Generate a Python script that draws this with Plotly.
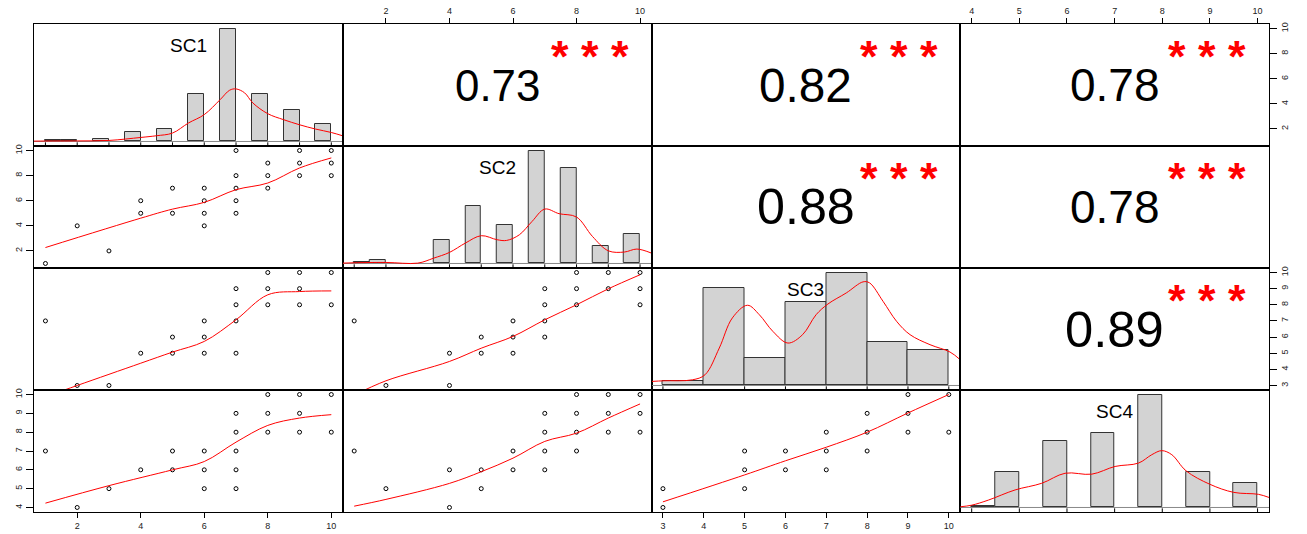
import plotly.graph_objects as go
from plotly.subplots import make_subplots

# ---------------- data ----------------
var_names = ["SC1", "SC2", "SC3", "SC4"]
var_min = [1, 1, 3, 4]
var_max = [10, 10, 10, 10]
tick_vals = [[2, 4, 6, 8, 10], [2, 4, 6, 8, 10], [3, 4, 5, 6, 7, 8, 9, 10], [4, 5, 6, 7, 8, 9, 10]]

# histograms (bin left edges, bin width, counts)
sc1_bin_left = [1, 1.5, 2.5, 3.5, 4.5, 5.5, 6.5, 7.5, 8.5, 9.5]
sc1_counts = [1, 1, 2, 8, 11, 41, 98, 41, 27, 15]
sc2_bin_left = [1, 1.5, 3.5, 4.5, 5.5, 6.5, 7.5, 8.5, 9.5]
sc2_counts = [1, 3, 20, 50, 33, 98, 83, 15, 26]
sc3_bin_left = [3, 4, 5, 6, 7, 8, 9]
sc3_counts = [4, 85, 24, 72, 98, 38, 31]
sc4_bin_left = [4, 4.5, 5.5, 6.5, 7.5, 8.5, 9.5]
sc4_counts = [1, 31, 58, 65, 98, 31, 21]
bin_width = [0.5, 0.5, 1.0, 0.5]

# density curves (same units as counts)
sc1_dens_x = [0.64, 1, 2, 3, 4, 4.5, 5, 5.5, 6, 6.5, 6.8, 7, 7.27, 7.53, 8, 8.5, 9, 9.5, 10, 10.36]
sc1_dens_y = [0.3, 0.4, 0.5, 0.9, 3.5, 5.0, 7.3, 16, 23.3, 36.3, 44.5, 45.6, 42.2, 33.4, 24.1, 18.9, 14.5, 10.8, 7.8, 4.9]
sc2_dens_x = [0.64, 1, 2, 3, 3.5, 4, 4.5, 5, 5.5, 5.8, 6.2, 6.6, 7, 7.45, 8, 8.5, 9, 9.5, 9.9, 10.36]
sc2_dens_y = [0.3, 0.6, 0.9, 0.3, 4.6, 9.6, 17.7, 24.1, 20.6, 20.0, 24.9, 36.5, 47.2, 43.2, 40.3, 23.5, 11.0, 9.9, 12.5, 9.0]
sc3_dens_x = [2.72, 3.03, 3.72, 4.03, 4.38, 4.7, 5.07, 5.36, 5.69, 6.06, 6.42, 6.75, 7.04, 7.49, 7.9, 8.06, 8.39, 8.72, 9.05, 9.54, 10.03, 10.28]
sc3_dens_y = [3.5, 4.1, 4.9, 9.3, 32.5, 58.6, 69.6, 61.4, 47.0, 36.8, 44.1, 61.4, 70.7, 80.3, 89.9, 89.0, 73.0, 55.7, 44.1, 35.4, 29.0, 22.3]
sc4_dens_x = [3.76, 4.0, 4.35, 4.91, 5.47, 5.96, 6.52, 7.01, 7.5, 7.78, 7.99, 8.2, 8.5, 9.0, 9.5, 10.02, 10.24]
sc4_dens_y = [0.6, 2.0, 6.4, 15.2, 21.0, 29.7, 28.9, 35.6, 38.5, 45.8, 49.3, 45.8, 31.8, 20.1, 13.1, 11.4, 8.7]

# rug (distinct values)
sc1_rug = [1, 2, 3, 4, 5, 6, 7, 8, 9, 10]
sc2_rug = [1, 2, 4, 5, 6, 7, 8, 9, 10]
sc3_rug = [3, 5, 6, 7, 8, 9, 10]
sc4_rug = [4, 5, 6, 7, 8, 9, 10]

# scatter pairs (distinct points)
sc1_sc2_x = [1, 2, 3, 4, 4, 5, 5, 6, 6, 6, 6, 7, 7, 7, 7, 7, 8, 8, 8, 9, 9, 9, 10, 10, 10]
sc1_sc2_y = [1, 4, 2, 6, 5, 7, 5, 7, 6, 5, 4, 10, 8, 7, 6, 5, 9, 8, 7, 10, 9, 8, 10, 9, 8]
sc1_sc3_x = [1, 2, 3, 4, 5, 5, 6, 6, 6, 7, 7, 7, 7, 8, 8, 8, 9, 9, 9, 10, 10]
sc1_sc3_y = [7, 3, 3, 5, 6, 5, 7, 6, 5, 9, 8, 7, 5, 10, 9, 8, 10, 9, 8, 10, 8]
sc1_sc4_x = [1, 2, 3, 4, 5, 5, 6, 6, 6, 7, 7, 7, 7, 7, 8, 8, 8, 9, 9, 9, 10, 10]
sc1_sc4_y = [7, 4, 5, 6, 7, 6, 7, 6, 5, 9, 8, 7, 6, 5, 10, 9, 8, 10, 9, 8, 10, 8]
sc2_sc3_x = [1, 2, 4, 4, 5, 5, 6, 6, 6, 7, 7, 7, 7, 8, 8, 8, 9, 9, 10, 10, 10]
sc2_sc3_y = [7, 3, 5, 3, 6, 5, 7, 6, 5, 9, 8, 7, 6, 10, 9, 8, 10, 9, 10, 9, 8]
sc2_sc4_x = [1, 2, 4, 4, 5, 5, 6, 6, 7, 7, 7, 7, 8, 8, 8, 8, 9, 9, 9, 10, 10, 10]
sc2_sc4_y = [7, 5, 6, 4, 6, 5, 7, 6, 9, 8, 7, 6, 10, 9, 8, 7, 10, 9, 8, 10, 9, 8]
sc3_sc4_x = [3, 3, 5, 5, 5, 6, 6, 7, 7, 7, 8, 8, 8, 9, 9, 9, 10, 10]
sc3_sc4_y = [5, 4, 7, 6, 5, 7, 6, 8, 7, 6, 9, 8, 7, 10, 9, 8, 10, 8]

# smoothed fits
fit_sc1_sc2_x = [1, 4, 5, 6, 7, 8, 9, 10]
fit_sc1_sc2_y = [2.27, 4.61, 5.33, 5.87, 6.88, 7.41, 8.61, 9.41]
fit_sc1_sc3_x = [1, 2, 4, 5, 6, 7, 8, 9, 10]
fit_sc1_sc3_y = [2.3, 3.0, 4.38, 5.07, 5.73, 7.07, 8.62, 8.82, 8.86]
fit_sc1_sc4_x = [1, 3, 5, 6, 7, 8, 9, 10]
fit_sc1_sc4_y = [4.23, 5.16, 6.0, 6.44, 7.47, 8.36, 8.75, 8.93]
fit_sc2_sc3_x = [1, 2, 4, 5, 6, 7, 8, 9, 10]
fit_sc2_sc3_y = [2.4, 3.29, 4.49, 5.31, 6.04, 7.07, 8.0, 8.99, 9.86]
fit_sc2_sc4_x = [1, 2, 4, 5, 6, 7, 8, 9, 10]
fit_sc2_sc4_y = [4.07, 4.43, 5.28, 5.9, 6.62, 7.51, 7.95, 8.75, 9.5]
fit_sc3_sc4_x = [3, 5, 6, 7, 8, 9, 10]
fit_sc3_sc4_y = [4.3, 5.73, 6.48, 7.2, 8.0, 9.02, 10.0]

# correlations (row, col) upper panels
cor_rows = [1, 1, 1, 2, 2, 3]
cor_cols = [2, 3, 4, 3, 4, 4]
cor_vals = [0.73, 0.82, 0.78, 0.88, 0.78, 0.89]
cor_stars = ["***", "***", "***", "***", "***", "***"]

# ---------------- figure ----------------
hist_bins = [sc1_bin_left, sc2_bin_left, sc3_bin_left, sc4_bin_left]
hist_counts = [sc1_counts, sc2_counts, sc3_counts, sc4_counts]
dens_x = [sc1_dens_x, sc2_dens_x, sc3_dens_x, sc4_dens_x]
dens_y = [sc1_dens_y, sc2_dens_y, sc3_dens_y, sc4_dens_y]
rugs = [sc1_rug, sc2_rug, sc3_rug, sc4_rug]
scatter = {
    (2, 1): (sc1_sc2_x, sc1_sc2_y, fit_sc1_sc2_x, fit_sc1_sc2_y),
    (3, 1): (sc1_sc3_x, sc1_sc3_y, fit_sc1_sc3_x, fit_sc1_sc3_y),
    (4, 1): (sc1_sc4_x, sc1_sc4_y, fit_sc1_sc4_x, fit_sc1_sc4_y),
    (3, 2): (sc2_sc3_x, sc2_sc3_y, fit_sc2_sc3_x, fit_sc2_sc3_y),
    (4, 2): (sc2_sc4_x, sc2_sc4_y, fit_sc2_sc4_x, fit_sc2_sc4_y),
    (4, 3): (sc3_sc4_x, sc3_sc4_y, fit_sc3_sc4_x, fit_sc3_sc4_y),
}

FONT = "Liberation Sans, Arial, sans-serif"
fig = make_subplots(rows=4, cols=4, horizontal_spacing=0, vertical_spacing=0)


def var_range(i):
    pad = 0.04 * (var_max[i] - var_min[i])
    return [var_min[i] - pad, var_max[i] + pad]


def idx(r, c):
    return (r - 1) * 4 + c


def sfx(k):
    return "" if k == 1 else str(k)


# diagonal histograms
for i in range(4):
    r = c = i + 1
    w = bin_width[i]
    M = max(hist_counts[i])
    yr = [-0.04 * M, 1.04 * M]
    xr = var_range(i)
    fig.add_trace(go.Scatter(x=xr, y=[0, 0], mode="lines",
                             line=dict(color="#888888", width=1), hoverinfo="skip"), row=r, col=c)
    fig.add_trace(go.Bar(x=[b + w / 2 for b in hist_bins[i]], y=hist_counts[i], width=w,
                         marker=dict(color="#D3D3D3", line=dict(color="#333333", width=1))),
                  row=r, col=c)
    fig.add_trace(go.Scatter(x=dens_x[i], y=dens_y[i], mode="lines", line=dict(color="red", width=1),
                             line_shape="spline"), row=r, col=c)
    rx, ry = [], []
    for v in rugs[i]:
        rx += [v, v, None]
        ry += [yr[0], yr[0] + 0.03 * (yr[1] - yr[0]), None]
    fig.add_trace(go.Scatter(x=rx, y=ry, mode="lines", line=dict(color="black", width=1)), row=r, col=c)
    k = idx(r, c)
    fig.layout[f"yaxis{sfx(k)}"].update(range=yr)
    fig.add_annotation(text=var_names[i], xref=f"x{sfx(k)} domain",
                       yref=f"y{sfx(k)} domain", x=0.5, y=0.824, xanchor="center", yanchor="middle",
                       showarrow=False, font=dict(family=FONT, size=19, color="black"))

# scatter panels
for (r, c), (sx, sy, fx, fy) in scatter.items():
    fig.add_trace(go.Scatter(x=sx, y=sy, mode="markers",
                             marker=dict(symbol="circle-open", size=4, color="black", line=dict(width=1))),
                  row=r, col=c)
    fig.add_trace(go.Scatter(x=fx, y=fy, mode="lines", line=dict(color="red", width=1),
                             line_shape="spline"), row=r, col=c)

# correlation panels
for r, c, v, s in zip(cor_rows, cor_cols, cor_vals, cor_stars):
    k = idx(r, c)
    fig.add_trace(go.Scatter(x=[None], y=[None], mode="markers", hoverinfo="skip"), row=r, col=c)
    fig.add_annotation(text=f"{v:.2f}", xref=f"x{sfx(k)} domain", yref=f"y{sfx(k)} domain", x=0.5, y=0.5,
                       xanchor="center", yanchor="middle",
                       showarrow=False, font=dict(family=FONT, size=42.6 * (abs(v) + 0.3), color="black"))
    fig.add_annotation(text="<b>" + " ".join(s) + "</b>", xref=f"x{sfx(k)} domain", yref=f"y{sfx(k)} domain",
                       x=0.8, y=0.73, xanchor="center", yanchor="middle",
                       showarrow=False, font=dict(family=FONT, size=45, color="red"))

# axes
for r in range(1, 5):
    for c in range(1, 5):
        k = idx(r, c)
        xa = dict(range=var_range(c - 1), showgrid=False, zeroline=False, showline=True, mirror=True,
                  linecolor="black", linewidth=1, ticks="", showticklabels=False, automargin=False,
                  tickfont=dict(family=FONT, size=9, color="#222222"))
        ya = dict(showgrid=False, zeroline=False, showline=True, mirror=True, automargin=False,
                  linecolor="black", linewidth=1, ticks="", showticklabels=False,
                  tickfont=dict(family=FONT, size=9, color="#222222"))
        if r != c:
            ya["range"] = var_range(r - 1)
        if r == 4 and c in (1, 3):
            xa.update(side="bottom", ticks="outside", ticklen=5, tickvals=tick_vals[c - 1],
                      showticklabels=True, tickcolor="black")
        if r == 1 and c in (2, 4):
            xa.update(side="top", ticks="outside", ticklen=5, tickvals=tick_vals[c - 1],
                      showticklabels=True, tickcolor="black")
        if c == 1 and r in (2, 4):
            ya.update(side="left", ticks="outside", ticklen=7, tickvals=tick_vals[r - 1],
                      showticklabels=True, tickangle=-90, tickcolor="black")
        if c == 4 and r in (1, 3):
            ya.update(side="right", ticks="outside", ticklen=7, tickvals=tick_vals[r - 1],
                      showticklabels=True, tickangle=-90, tickcolor="black")
        fig.layout[f"xaxis{sfx(k)}"].update(xa)
        fig.layout[f"yaxis{sfx(k)}"].update(ya)

fig.update_layout(width=1307, height=534, margin=dict(l=34, r=38, t=24, b=22, autoexpand=False),
                  showlegend=False, plot_bgcolor="white", paper_bgcolor="white", bargap=0)
fig.write_html("out.html", config={"displayModeBar": False},
               post_script="document.body.style.margin='0px';")
